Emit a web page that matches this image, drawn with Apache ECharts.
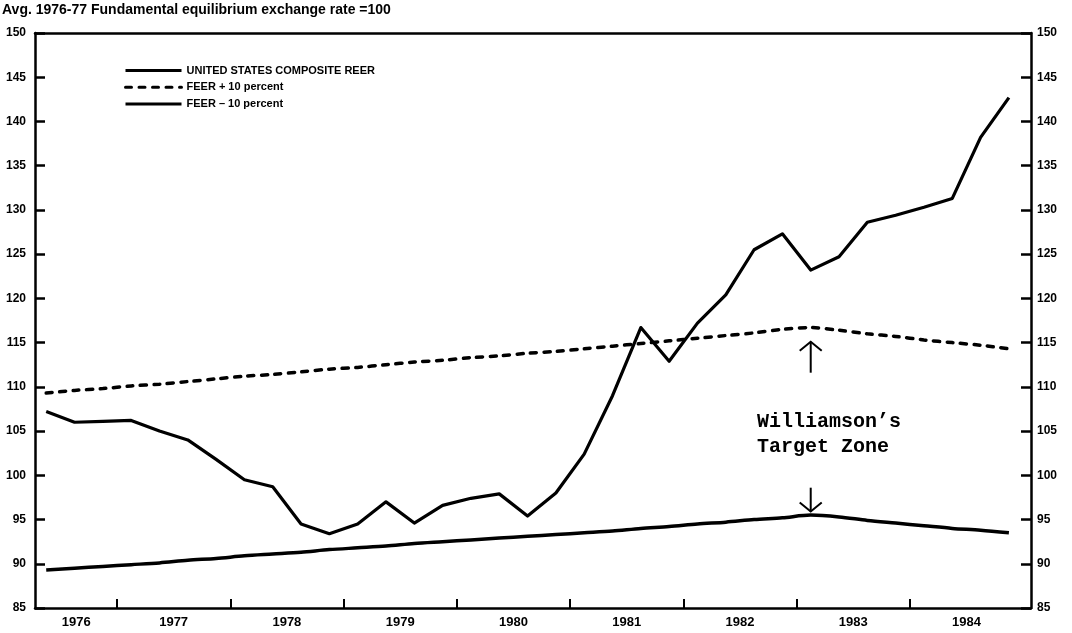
<!DOCTYPE html>
<html>
<head>
<meta charset="utf-8">
<script src="https://cdn.jsdelivr.net/npm/echarts@6/dist/echarts.min.js"></script>
<style>
html,body{margin:0;padding:0;background:#fff;}
#chart{width:1072px;height:633px;}
</style>
</head>
<body>
<div id="chart"></div>
<script>
// ---- data (quarterly, 1976Q2 .. 1984Q4) ----
const quarters = [
  '1976Q2','1976Q3','1976Q4',
  '1977Q1','1977Q2','1977Q3','1977Q4',
  '1978Q1','1978Q2','1978Q3','1978Q4',
  '1979Q1','1979Q2','1979Q3','1979Q4',
  '1980Q1','1980Q2','1980Q3','1980Q4',
  '1981Q1','1981Q2','1981Q3','1981Q4',
  '1982Q1','1982Q2','1982Q3','1982Q4',
  '1983Q1','1983Q2','1983Q3','1983Q4',
  '1984Q1','1984Q2','1984Q3','1984Q4'
];
const reer = [
  107.2,106.0,106.1,
  106.2,105.0,104.0,101.8,
  99.5,98.7,94.5,93.4,
  94.5,97.0,94.6,96.6,
  97.4,97.9,95.4,98.0,
  102.4,109.0,116.7,112.9,
  117.2,120.4,125.5,127.3,
  123.2,124.7,128.6,129.4,
  130.3,131.3,138.2,142.7
];
const feerPlus = [
  109.3,109.6,109.8,
  110.1,110.3,110.6,110.9,
  111.2,111.4,111.7,112.0,
  112.2,112.5,112.8,113.0,
  113.3,113.5,113.8,114.0,
  114.3,114.6,114.9,115.2,
  115.5,115.8,116.1,116.5,
  116.7,116.4,116.0,115.7,
  115.3,115.0,114.7,114.3
];
const feerMinus = [
  89.3,89.5,89.7,
  89.9,90.1,90.4,90.6,
  90.9,91.1,91.3,91.6,
  91.8,92.0,92.3,92.5,
  92.7,92.9,93.1,93.3,
  93.5,93.7,94.0,94.2,
  94.5,94.7,95.0,95.2,
  95.5,95.3,94.9,94.6,
  94.3,94.0,93.8,93.5
];
const seriesNames = ['UNITED STATES COMPOSITE REER', 'FEER + 10 percent', 'FEER \u2013 10 percent'];
const yearTicks = [1977,1978,1979,1980,1981,1982,1983,1984];
const yearLabelPos = [1976.64,1977.5,1978.5,1979.5,1980.5,1981.5,1982.5,1983.5,1984.5];
const yTicks = {min:85, max:150, step:5};
const titleText = 'Avg. 1976-77 Fundamental equilibrium exchange rate =100';
const annotationText = "Williamson\u2019s\nTarget Zone";
const arrowYear = 1983.125;
const upArrow = [111.6, 115.1];   // from, to (tip)
const downArrow = [98.6, 95.9];   // from, to (tip)
const annotationAnchor = [1982.65, 104.6];

function qToYear(q){ const y = +q.slice(0,4), k = +q.slice(5); return y + (k-0.5)/4; }
function pairs(vals){ return quarters.map((q,i)=>[qToYear(q), vals[i]]); }

const xMin = 1976.276, xMax = 1985.07;
const labelFont = "'Liberation Sans', Arial, sans-serif";

const chart = echarts.init(document.getElementById('chart'), null, {renderer:'canvas'});
const yAxisBase = {
  type:'value', min:yTicks.min, max:yTicks.max, interval:yTicks.step,
  splitLine:{show:false},
  axisLine:{show:true, lineStyle:{color:'#000', width:2.5}},
  axisTick:{show:true, inside:true, length:10, lineStyle:{color:'#000', width:2.5}},
  axisLabel:{color:'#000', fontFamily:labelFont, fontWeight:'bold', fontSize:12}
};
const option = {
  backgroundColor:'#fff',
  animation:false,
  title:{
    text:titleText, left:2, top:3, padding:0,
    textStyle:{color:'#000', fontFamily:labelFont, fontWeight:'bold', fontSize:14}
  },
  legend:{
    orient:'vertical', left:119, top:60, itemWidth:56, itemHeight:14, itemGap:5.5,
    data:seriesNames,
    itemStyle:{opacity:0},
    lineStyle:{width:3},
    textStyle:{color:'#000', fontFamily:labelFont, fontWeight:'bold', fontSize:11}
  },
  grid:{left:35, right:41, top:33, bottom:25, containLabel:false},
  xAxis:[{
    type:'value', min:xMin, max:xMax, position:'bottom',
    splitLine:{show:false},
    axisLine:{show:true, onZero:false, lineStyle:{color:'#000', width:2.5}},
    axisTick:{show:true, inside:true, length:9, customValues:yearTicks, lineStyle:{color:'#000', width:2}},
    axisLabel:{show:true, customValues:yearLabelPos, margin:8, color:'#000', fontFamily:labelFont, fontWeight:'bold', fontSize:13,
      formatter:v=>String(Math.floor(v))}
  },{
    type:'value', min:xMin, max:xMax, position:'top',
    splitLine:{show:false},
    axisLine:{show:true, onZero:false, lineStyle:{color:'#000', width:2.5}},
    axisTick:{show:false}, axisLabel:{show:false}
  }],
  yAxis:[
    Object.assign({}, yAxisBase, {position:'left', axisLabel:Object.assign({}, yAxisBase.axisLabel, {margin:9})}),
    Object.assign({}, yAxisBase, {position:'right', axisLabel:Object.assign({}, yAxisBase.axisLabel, {margin:6})})
  ],
  series:[
    {name:seriesNames[0], type:'line', data:pairs(reer), symbol:'none', color:'#000',
     lineStyle:{color:'#000', width:3.2, join:'round'}},
    {name:seriesNames[1], type:'line', data:pairs(feerPlus), symbol:'none', color:'#000', smooth:0.3,
     lineStyle:{color:'#000', width:3.5, type:[6,7.5], cap:'round'}},
    {name:seriesNames[2], type:'line', data:pairs(feerMinus), symbol:'none', color:'#000', smooth:0.3,
     lineStyle:{color:'#000', width:3.5}}
  ]
};
chart.setOption(option);

function px(x, y){ return chart.convertToPixel({xAxisIndex:0, yAxisIndex:0}, [x, y]); }
function arrow(fromV, toV){
  const a = px(arrowYear, fromV), b = px(arrowYear, toV);
  const dir = b[1] < a[1] ? 1 : -1; // 1 = pointing up
  const hw = 11, hh = 9;
  return [
    {type:'polyline', shape:{points:[a,b]}, style:{stroke:'#000', lineWidth:2, fill:null}},
    {type:'polyline', shape:{points:[[b[0]-hw, b[1]+dir*hh],[b[0],b[1]],[b[0]+hw, b[1]+dir*hh]]}, style:{stroke:'#000', lineWidth:2, fill:null}}
  ];
}
const anchor = px(annotationAnchor[0], annotationAnchor[1]);
chart.setOption({
  graphic:[].concat(arrow(upArrow[0], upArrow[1]), arrow(downArrow[0], downArrow[1]), [{
    type:'text', x:anchor[0], y:anchor[1],
    style:{text:annotationText, fill:'#000', font:"bold 20px 'Liberation Mono', 'Courier New', monospace",
      textAlign:'left', textVerticalAlign:'middle', lineHeight:25}
  }])
});
</script>
</body>
</html>
